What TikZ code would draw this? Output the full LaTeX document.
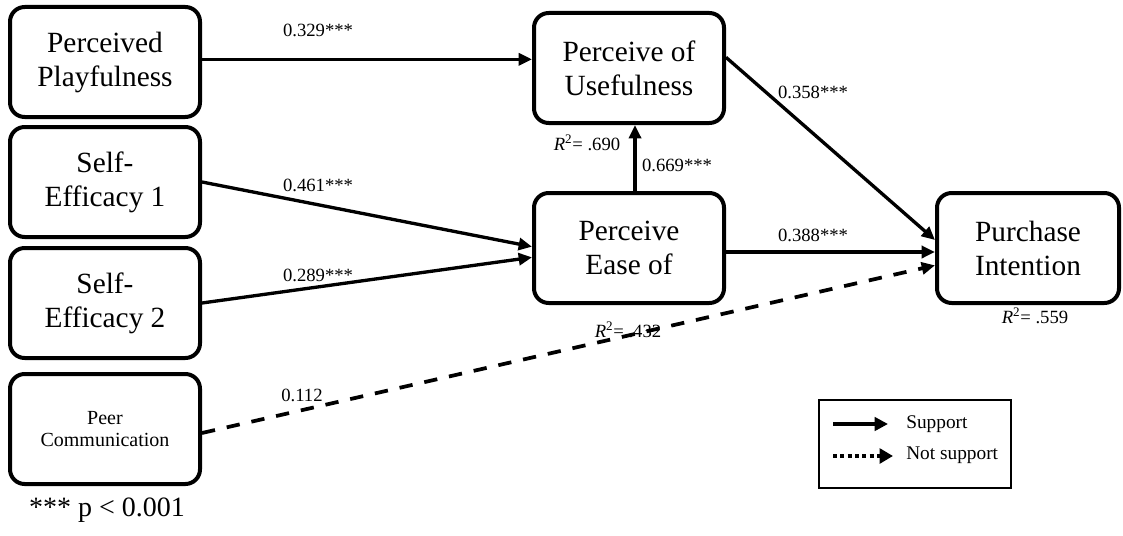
\documentclass[tikz,border=0pt]{standalone}
\usepackage{fontspec}
\setmainfont{Liberation Serif}
\usetikzlibrary{arrows.meta}

\def\boxw{142.5pt}
\def\boxh{82.5pt}
\newcommand{\rsq}[1]{\textit{R}\textsuperscript{2}= #1}
\tikzset{
   tamnode/.style={draw=black, line width=3pt, fill=white, rounded corners=11pt, minimum width=\boxw, minimum height=\boxh, align=center, font=\fontsize{22}{25.5}\selectfont},
   coef/.style={font=\fontsize{14}{16}\selectfont, inner sep=1pt},
   tamarrow/.style={-{Triangle[length=10pt,width=9pt]}, line width=2.5pt},
   nsarrow/.style={tamarrow, dash pattern=on 10pt off 9pt, line width=2.8pt},
   legtext/.style={anchor=west, font=\fontsize{14.5}{16}\selectfont, inner sep=0pt}
}

\begin{document}
\begin{tikzpicture}[x=0.75pt, y=-0.75pt]
\useasboundingbox (0,0) rectangle (1123,535);

% left column
\foreach \name/\y/\txt in {pp/62/{Perceived\\Playfulness}, se1/182/{Self-\\Efficacy 1}, se2/303/{Self-\\Efficacy 2}} {
    \node[tamnode] (\name) at (105,\y) {\txt};
}
\node[tamnode, font=\fontsize{15}{16.5}\selectfont] (pc) at (105,429) {Peer\\Communication};

% TAM constructs
\node[tamnode] (pu) at (629,68) {Perceive of\\Usefulness};
\node[tamnode] (pe) at (629,248) {Perceive\\Ease of};
\node[tamnode, minimum width=136.5pt] (pi) at (1028,248) {Purchase\\Intention};

% paths
\draw[tamarrow] ([yshift=2pt]pp.east) -- ([yshift=2pt]pp.east -| pu.west);
\draw[tamarrow] (se1.east) -- ([yshift=1pt]pe.west);
\draw[tamarrow] (se2.east) -- ([yshift=-7pt]pe.west);
\draw[nsarrow] ([yshift=-3pt]pc.east) -- ([yshift=-13pt]pi.west);
\draw[tamarrow] ([xshift=4.5pt]pe.north) -- ([xshift=4.5pt]pu.south);
\draw[tamarrow] ([yshift=8pt]pu.east) -- ([yshift=6pt]pi.west);
\draw[tamarrow] ([yshift=-3pt]pe.east) -- ([yshift=-3pt]pe.east -| pi.west);

% coefficients
\node[coef] (c-pp) at (318,30) {0.329***};
\node[coef] (c-se1) at (318,185) {0.461***};
\node[coef] (c-se2) at (318,275) {0.289***};
\node[coef] (c-pc) at (302,395) {0.112};
\node[coef] (c-pu) at (813,92) {0.358***};
\node[coef] (c-pe) at (813,235) {0.388***};
\node[coef] (c-peu) at (677,165) {0.669***};
\node[coef] (r-pu) at (587,143) {\rsq{.690}};
\node[coef] (r-pe) at (628,330) {\rsq{.432}};
\node[coef] (r-pi) at (1035,316) {\rsq{.559}};
\node[font=\fontsize{21}{24}\selectfont] (sig) at (107,510) {*** p < 0.001};

% legend
\node[draw=black, line width=0.8pt, minimum width=144pt, minimum height=66pt, inner sep=0pt] (legend) at (915,444) {};
\coordinate (sup0) at (833,424);
\coordinate (sup1) at (888,424);
\coordinate (nsup0) at (833,456);
\coordinate (nsup1) at (893,456);
\draw[-{Triangle[length=10pt,width=10pt]}, line width=3pt] (sup0) -- (sup1);
\draw[-{Triangle[length=10pt,width=11pt]}, line width=3pt, dash pattern=on 3pt off 2.5pt] (nsup0) -- (nsup1);
\node[legtext] (suptxt) at (906,424) {Support};
\node[legtext] (nsuptxt) at (906,455) {Not support};
\end{tikzpicture}
\end{document}
